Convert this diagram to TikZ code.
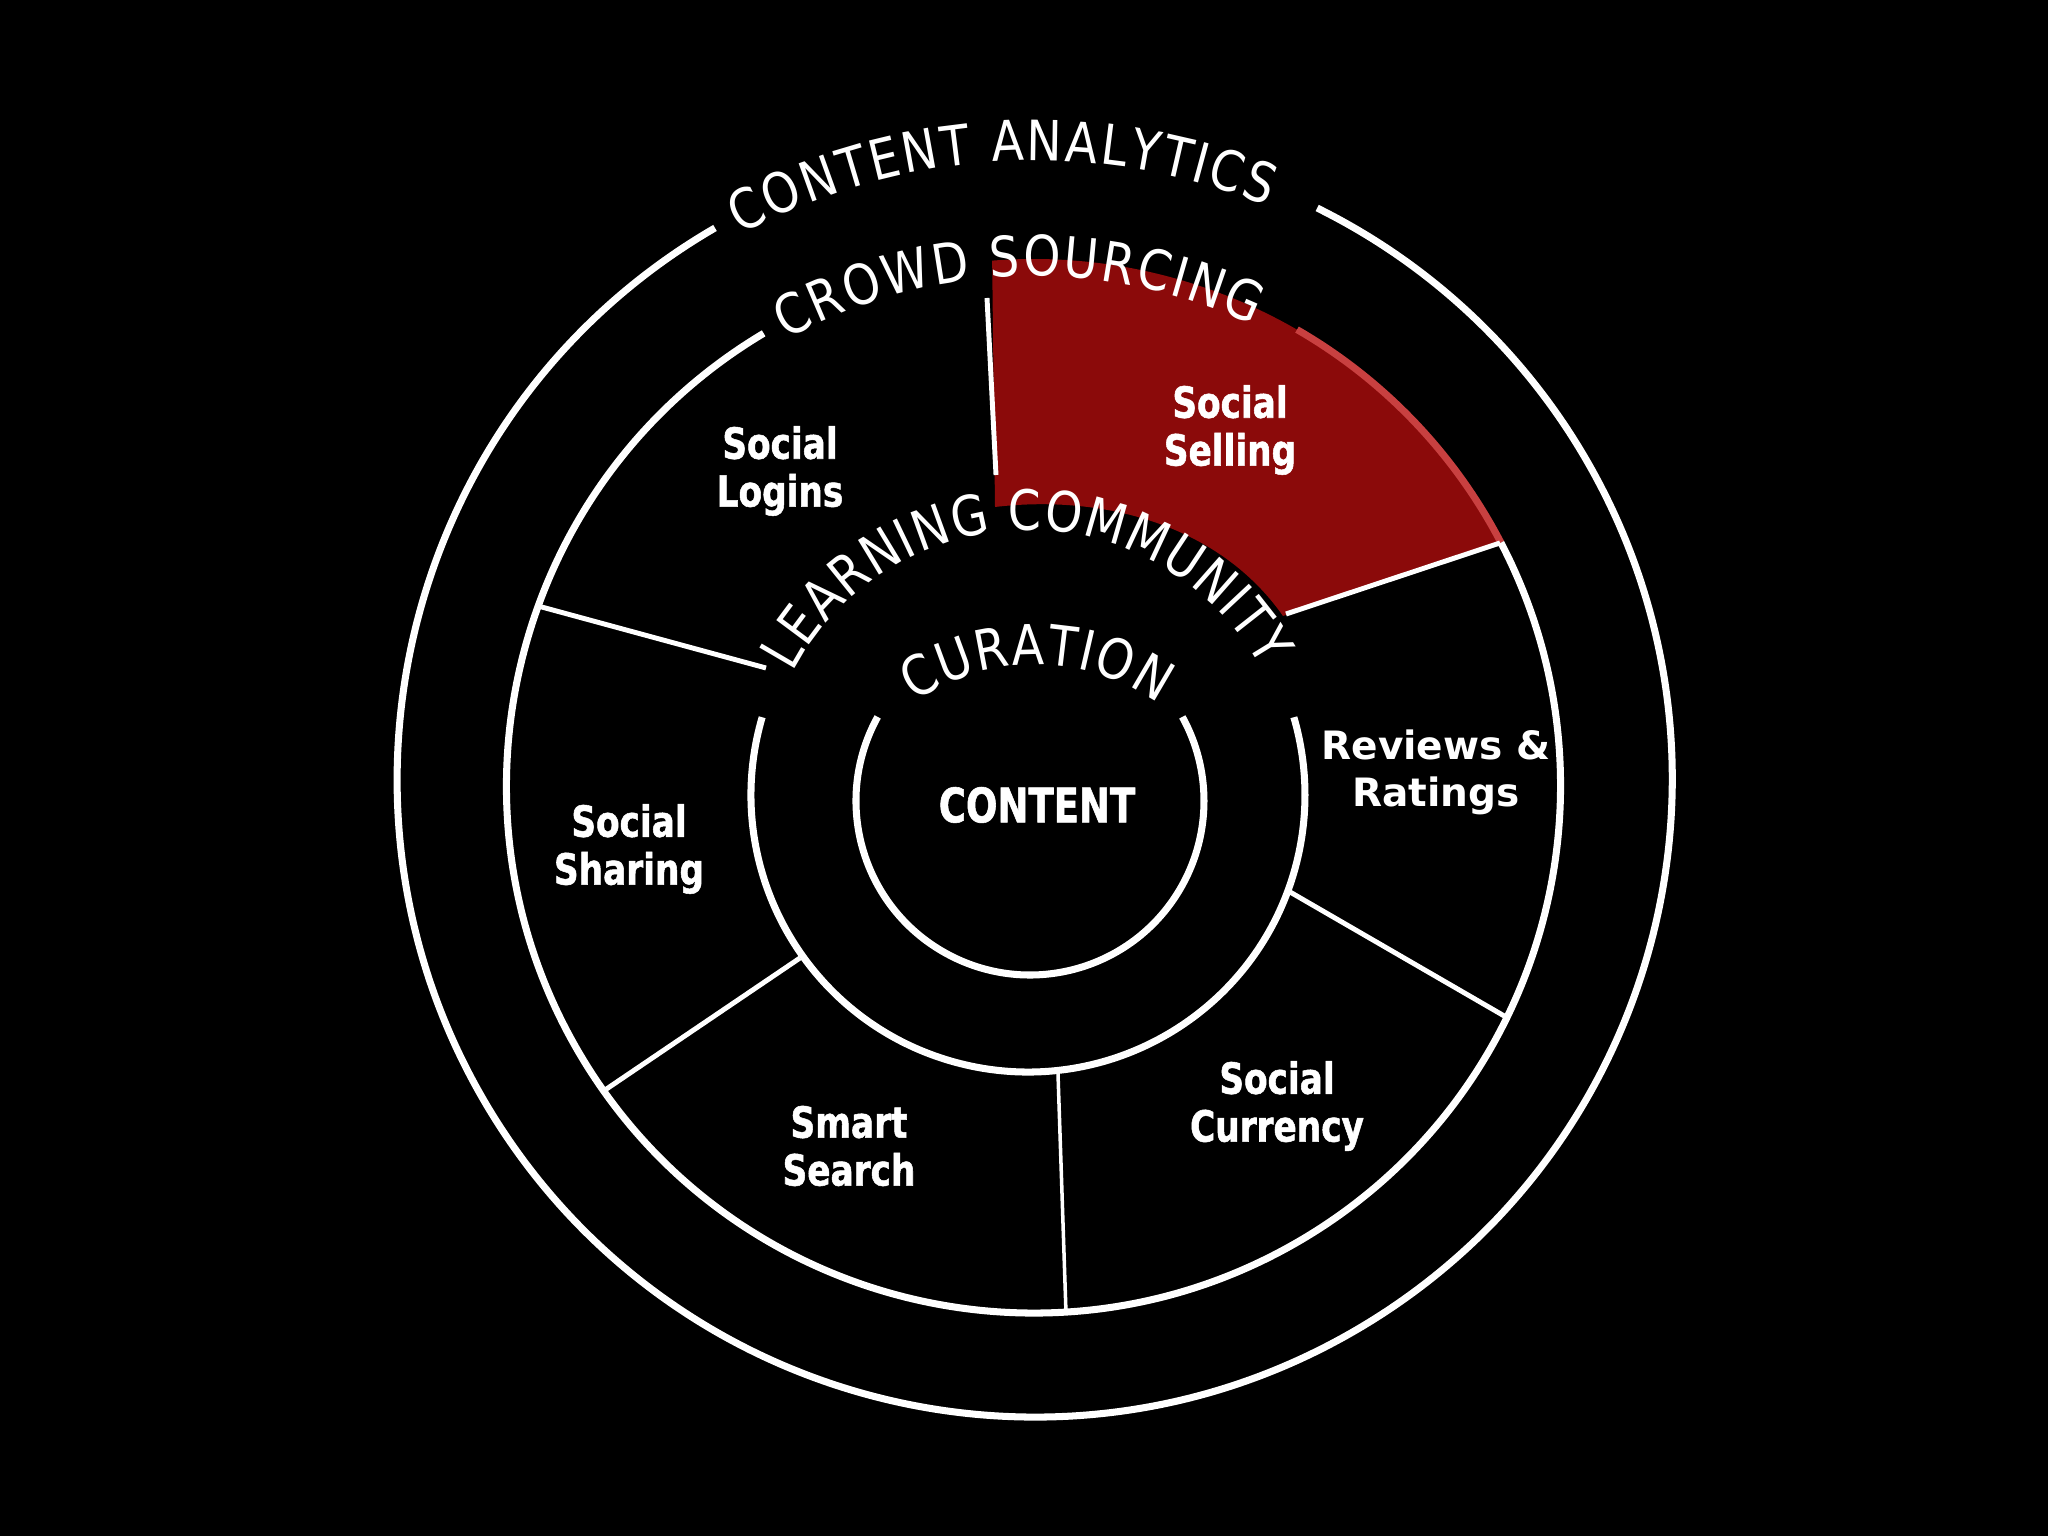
\documentclass[tikz,border=0pt]{standalone}
\usepackage{fontspec}
\usetikzlibrary{decorations.text,calc}
\newfontfamily\arcfont[FakeStretch=0.85]{DejaVu Sans}
\newfontfamily\lblfont[FakeStretch=0.8,FakeBold=1.2]{DejaVu Sans}
\newfontfamily\ctrfont[FakeStretch=0.78,FakeBold=1.2]{DejaVu Sans}
\newfontfamily\revfont{DejaVu Sans}
\definecolor{sellred}{RGB}{139,10,10}
\definecolor{edgered}{RGB}{200,64,64}
\begin{document}
\begin{tikzpicture}[x=0.01cm,y=0.01cm,
  ring/.style={draw=white, line width=2pt},
  divider/.style={draw=white, line width=1.4pt},
  thindiv/.style={draw=white, line width=1pt},
  lbl/.style={text=white, align=center, inner sep=0pt,
    font=\lblfont\bfseries\fontsize{12.2pt}{13.6pt}\selectfont},
  revlbl/.style={text=white, align=center, inner sep=0pt,
    font=\revfont\bfseries\fontsize{11.1pt}{13.4pt}\selectfont},
  ctrlbl/.style={text=white, inner sep=0pt,
    font=\ctrfont\bfseries\fontsize{13.5pt}{13.5pt}\selectfont},
  arctext/.style={decorate, decoration={text along path,
    text={|\arcfont\fontsize{15.8pt}{15.8pt}\selectfont|#1},
    text color=white, text align={fit to path}}}
]
\fill[black] (0,0) rectangle (2048,1536);
\useasboundingbox (0,0) rectangle (2048,1536);

\coordinate (C1) at (1034.7,756.5);
\coordinate (C2) at (1033.5,750);
\coordinate (C3) at (1028,741);
\coordinate (C4) at (1030,735);
\coordinate (CC) at (1035,656);

% highlighted sector
\fill[sellred] ($(C2)+(94.5:527)$) arc[start angle=94.5,end angle=27.5,radius=527]
  -- (1283,920) .. controls (1220,1010) and (1105,1042) .. (995,1029) -- cycle;
\draw[edgered, line width=2pt] ($(C2)+(27.5:527)$) arc[start angle=27.5,end angle=60,radius=527];

% rings
\draw[ring] ($(C1)+(120.1:637.5)$) arc[start angle=120.1,end angle=423.7,radius=637.5];
\draw[ring] ($(C2)+(120.8:527)$) arc[start angle=120.8,end angle=387.5,radius=527];
\draw[ring] ($(C3)+(163.7:277)$) arc[start angle=163.7,end angle=376.3,radius=277];
\draw[ring] ($(C4)+(151.1:174)$) arc[start angle=151.1,end angle=388.9,radius=174];

% dividers
\coordinate (d1a) at (987,1238); \coordinate (d1b) at (996,1061);
\coordinate (d2a) at (538,930);  \coordinate (d2b) at (766,868);
\coordinate (d3a) at (605,446);  \coordinate (d3b) at (800,578);
\coordinate (d4a) at (1058,462); \coordinate (d4b) at (1066,223);
\coordinate (d5a) at (1290,644); \coordinate (d5b) at (1506,519);
\coordinate (d6a) at (1286,922); \coordinate (d6b) at (1500,993);
\draw[divider] (d1a) -- (d1b);
\draw[divider] (d2a) -- (d2b);
\draw[divider] (d3a) -- (d3b);
\draw[thindiv] (d4a) -- (d4b);
\draw[divider] (d5a) -- (d5b);
\draw[divider] (d6a) -- (d6b);

% curved titles
\path[arctext={CONTENT ANALYTICS}] ($(C1)+(118.4:619)$) arc[start angle=118.4,end angle=67.9,radius=619];
\path[arctext={CROWD SOURCING}] ($(C2)+(119:510)$) arc[start angle=119,end angle=64.5,radius=510];
\path[arctext={LEARNING COMMUNITY}] ($(C3)+(152.5:265)$) arc[start angle=152.5,end angle=28.5,radius=265];
\path[arctext={CURATION}] ($(CC)+(124:215)$) arc[start angle=124,end angle=55,radius=215];

% labels
\node[lbl] (logins) at (780,1065) {Social\\Logins};
\node[lbl] (selling) at (1230,1106) {Social\\Selling};
\node[lbl] (sharing) at (629,687) {Social\\Sharing};
\node[lbl] (search) at (849,390) {Smart\\Search};
\node[lbl] (currency) at (1277,430) {Social\\Currency};
\node[revlbl] (reviews) at (1436,764) {Reviews \&\\Ratings};
\node[ctrlbl] (content) at (1037,731) {CONTENT};
\end{tikzpicture}
\end{document}
